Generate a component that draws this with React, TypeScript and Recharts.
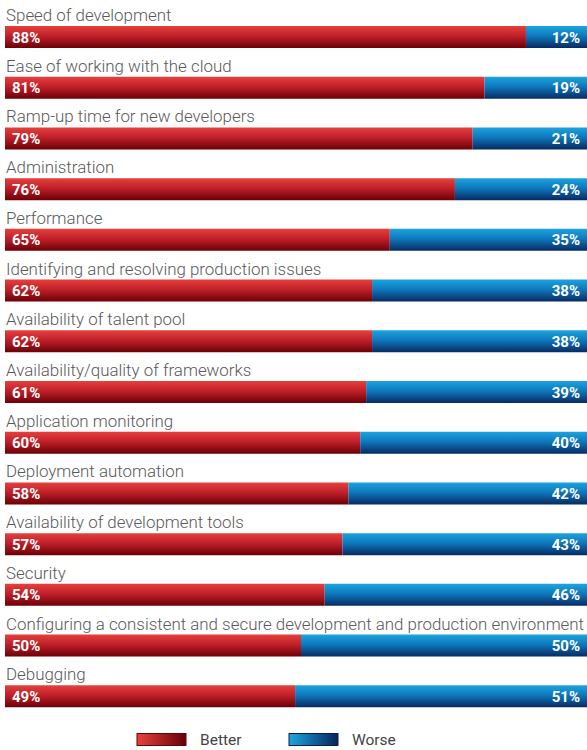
import React from "react";
import { BarChart, Bar, XAxis, YAxis, LabelList } from "recharts";

const categories = [
  "Speed of development",
  "Ease of working with the cloud",
  "Ramp-up time for new developers",
  "Administration",
  "Performance",
  "Identifying and resolving production issues",
  "Availability of talent pool",
  "Availability/quality of frameworks",
  "Application monitoring",
  "Deployment automation",
  "Availability of development tools",
  "Security",
  "Configuring a consistent and secure development and production environment",
  "Debugging",
];
const betterValues = [88, 81, 79, 76, 65, 62, 62, 61, 60, 58, 57, 54, 50, 49];
const worseValues = [12, 19, 21, 24, 35, 38, 38, 39, 40, 42, 43, 46, 50, 51];
const seriesNames = ["Better", "Worse"];

const data = categories.map((name, i) => ({
  name,
  better: betterValues[i],
  worse: worseValues[i],
}));

const FONT = "Roboto, 'Liberation Sans', sans-serif";
const CHART_W = 597;

const CategoryLabel = (props: any) => {
  const { y, value } = props;
  return (
    <text
      x={6}
      y={y - 5}
      fill="#595959"
      fontFamily={FONT}
      fontWeight={300}
      fontSize={16.9}
    >
      {value}
    </text>
  );
};

const BetterLabel = (props: any) => {
  const { x, y, height, value } = props;
  return (
    <text
      x={x + 7}
      y={y + height / 2 + 5.5}
      fill="#fff"
      fontFamily={FONT}
      fontWeight={700}
      fontSize={15}
    >
      {value}%
    </text>
  );
};

const WorseLabel = (props: any) => {
  const { x, y, width, height, value } = props;
  return (
    <text
      x={x + width - 17}
      y={y + height / 2 + 5.5}
      fill="#fff"
      fontFamily={FONT}
      fontWeight={700}
      fontSize={15}
      textAnchor="end"
    >
      {value}%
    </text>
  );
};

export default function App() {
  return (
    <div
      style={{
        position: "absolute",
        left: 0,
        top: 0,
        width: 587,
        height: 750,
        overflow: "hidden",
        background: "#fff",
      }}
    >
      <BarChart
        width={CHART_W}
        height={750}
        data={data}
        layout="vertical"
        margin={{ top: 12, right: 0, bottom: 28, left: 5 }}
        barCategoryGap={0}
      >
        <defs>
          <linearGradient id="gradRed" x1="0" y1="0" x2="0" y2="1">
            <stop offset="0%" stopColor="#e6403c" />
            <stop offset="45%" stopColor="#c0202a" />
            <stop offset="100%" stopColor="#6c0006" />
          </linearGradient>
          <linearGradient id="gradBlue" x1="0" y1="0" x2="0" y2="1">
            <stop offset="0%" stopColor="#1ca4e0" />
            <stop offset="45%" stopColor="#0e78bc" />
            <stop offset="100%" stopColor="#082a62" />
          </linearGradient>
        </defs>
        <XAxis type="number" domain={[0, 100]} hide />
        <YAxis type="category" dataKey="name" hide />
        <Bar
          dataKey="better"
          name={seriesNames[0]}
          stackId="a"
          fill="url(#gradRed)"
          barSize={22}
          isAnimationActive={false}
        >
          <LabelList dataKey="name" content={<CategoryLabel />} />
          <LabelList dataKey="better" content={<BetterLabel />} />
        </Bar>
        <Bar
          dataKey="worse"
          name={seriesNames[1]}
          stackId="a"
          fill="url(#gradBlue)"
          barSize={22}
          isAnimationActive={false}
        >
          <LabelList dataKey="worse" content={<WorseLabel />} />
        </Bar>
      </BarChart>
      <svg
        width={587}
        height={30}
        style={{ position: "absolute", left: 0, top: 725 }}
      >
        <defs>
          <linearGradient id="legRed" x1="0" y1="0" x2="1" y2="0">
            <stop offset="0%" stopColor="#e8423c" />
            <stop offset="100%" stopColor="#660006" />
          </linearGradient>
          <linearGradient id="legBlue" x1="0" y1="0" x2="1" y2="0">
            <stop offset="0%" stopColor="#1ca6e2" />
            <stop offset="100%" stopColor="#06245a" />
          </linearGradient>
        </defs>
        <rect x={137} y={8.5} width={49} height={12} fill="url(#legRed)" stroke="#5a0a0a" strokeWidth={1} />
        <text x={200} y={20} fill="#444" fontFamily={FONT} fontWeight={400} fontSize={15.5}>
          {seriesNames[0]}
        </text>
        <rect x={289} y={8.5} width={49} height={12} fill="url(#legBlue)" stroke="#0a2040" strokeWidth={1} />
        <text x={352} y={20} fill="#444" fontFamily={FONT} fontWeight={400} fontSize={15.5}>
          {seriesNames[1]}
        </text>
      </svg>
    </div>
  );
}
